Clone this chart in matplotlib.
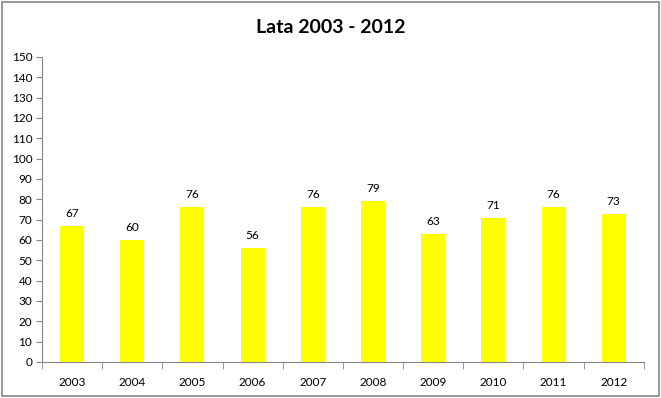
import matplotlib
matplotlib.use("Agg")
import matplotlib.pyplot as plt
from matplotlib.patches import Rectangle
import numpy as np

years = ["2003", "2004", "2005", "2006", "2007", "2008", "2009", "2010", "2011", "2012"]
values = [67, 60, 76, 56, 76, 79, 63, 71, 76, 73]
yticks = list(range(0, 151, 10))
title = "Lata 2003 - 2012"

plt.rcParams['font.family'] = ['Lato', 'DejaVu Sans']

fig = plt.figure(figsize=(6.61, 3.98), dpi=100)
fig.patches.append(Rectangle((0.003, 0.005), 0.994, 0.99, transform=fig.transFigure,
                             fill=False, edgecolor='#868686', linewidth=1.2))
ax = fig.add_axes([0.0635, 0.0905, 0.9105, 0.7665])
x = np.arange(len(years))
ax.bar(x, values, width=0.4, color='#FFFF00', edgecolor='none')
for xi, v in zip(x, values):
    ax.annotate(str(v), (xi, v), xytext=(0, 5), textcoords='offset points',
                ha='center', va='bottom', fontsize=8.5, color='black')

ax.set_xlim(-0.5, len(years) - 0.5)
ax.set_ylim(0, 150)
ax.set_yticks(yticks)
ax.set_yticklabels([str(t) for t in yticks], fontsize=8.5)
ax.set_xticks(x)
ax.set_xticklabels(years, fontsize=8.5)
ax.set_xticks(np.arange(-0.5, len(years)), minor=True)
ax.tick_params(axis='x', which='major', length=0, pad=11)
ax.tick_params(axis='x', which='minor', length=5, color='#868686', direction='out')
ax.tick_params(axis='y', length=4, color='#868686', direction='out', pad=3)
for s in ['top', 'right']:
    ax.spines[s].set_visible(False)
for s in ['left', 'bottom']:
    ax.spines[s].set_color('#868686')
fig.text(0.5, 0.93, title, ha='center', va='center', fontsize=14, fontweight='bold')
fig.savefig("out.png", dpi=100)
